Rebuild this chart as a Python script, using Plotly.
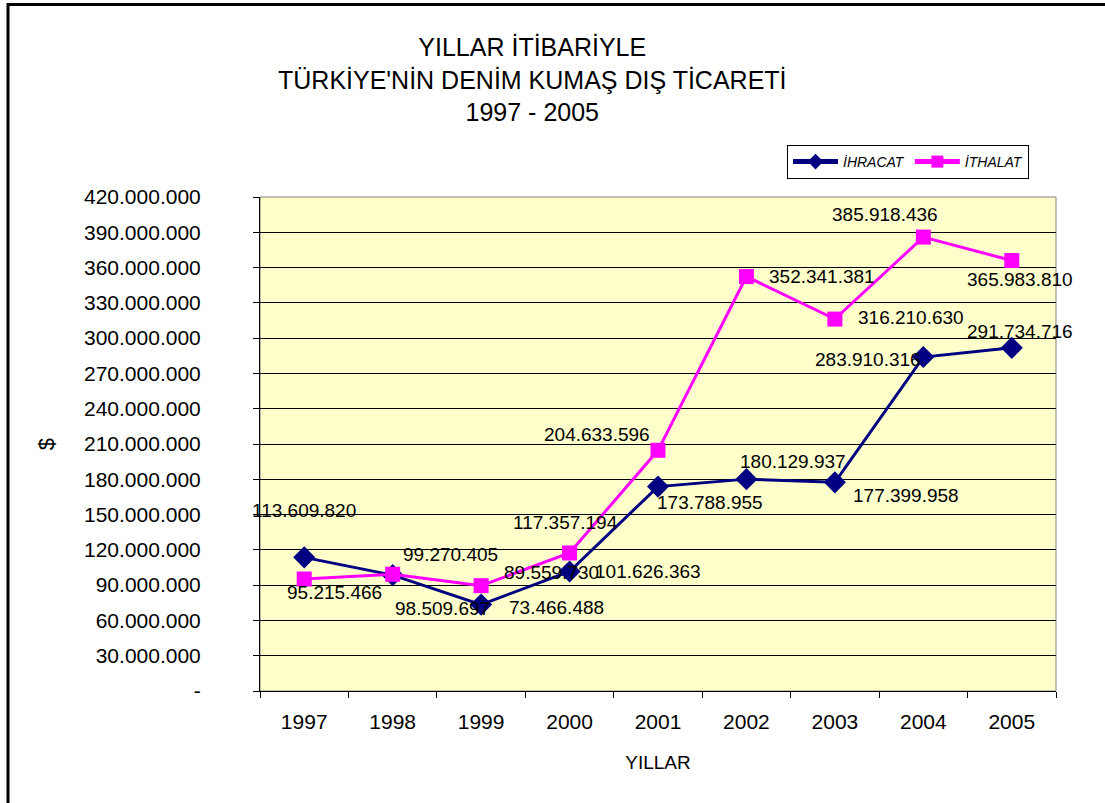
import plotly.graph_objects as go

# ---- data ----
years = ["1997", "1998", "1999", "2000", "2001", "2002", "2003", "2004", "2005"]
ihracat = [113609820, 98509697, 73466488, 101626363, 173788955,
           180129937, 177399958, 283910316, 291734716]
ithalat = [95215466, 99270405, 89559730, 117357194, 204633596,
           352341381, 316210630, 385918436, 365983810]
y_tick_values = [0, 30000000, 60000000, 90000000, 120000000, 150000000, 180000000,
                 210000000, 240000000, 270000000, 300000000, 330000000, 360000000,
                 390000000, 420000000]
y_tick_labels = ["-", "30.000.000", "60.000.000", "90.000.000", "120.000.000",
                 "150.000.000", "180.000.000", "210.000.000", "240.000.000",
                 "270.000.000", "300.000.000", "330.000.000", "360.000.000",
                 "390.000.000", "420.000.000"]

# label offsets in pixels (style only)
ihr_dx = [0, 50, 75, 78, 52, 47, 71, -55, 8]
ihr_dy = [47, -33, -3, 0, -16, 18, -13, -2, 16]
ith_dx = [30, 58, 70, -4, -61, 76, 76, -38, 8]
ith_dy = [-13, 20, 13, 30, 16, 0, 2, 23, -19]

FONT = "Liberation Sans, Arial, sans-serif"
W, H = 1105, 803
L, R, T, B = 260, 49, 197, 112
PW, PH = W - L - R, H - T - B


def fmt(v):
    return "{:,}".format(v).replace(",", ".")


def px_x(p):
    return (p - L) / PW


def px_y(p):
    return (H - B - p) / PH


fig = go.Figure()
fig.add_trace(go.Scatter(
    x=years, y=ihracat, name="İHRACAT", mode="lines+markers",
    line=dict(color="#000080", width=3),
    marker=dict(symbol="diamond", size=17, color="#000080"),
))
fig.add_trace(go.Scatter(
    x=years, y=ithalat, name="İTHALAT", mode="lines+markers",
    line=dict(color="#FF00FF", width=3),
    marker=dict(symbol="square", size=15, color="#FF00FF"),
))

annotations = []
# category axis: position annotations by category index
for i, (v, dx, dy) in enumerate(zip(ihracat, ihr_dx, ihr_dy)):
    annotations.append(dict(x=i, y=v, xref="x", yref="y", text=fmt(v), showarrow=False,
                            xshift=dx, yshift=dy, font=dict(family=FONT, size=19, color="black")))
for i, (v, dx, dy) in enumerate(zip(ithalat, ith_dx, ith_dy)):
    annotations.append(dict(x=i, y=v, xref="x", yref="y", text=fmt(v), showarrow=False,
                            xshift=dx, yshift=dy, font=dict(family=FONT, size=19, color="black")))

# title as annotation
annotations.append(dict(
    text="YILLAR İTİBARİYLE<br>TÜRKİYE'NİN DENİM KUMAŞ DIŞ TİCARETİ<br>1997 - 2005",
    xref="paper", yref="paper", x=px_x(532), y=px_y(79),
    xanchor="center", yanchor="middle", showarrow=False,
    font=dict(family=FONT, size=25, color="black"),
))

shapes = [
    # plot area border (gray)
    dict(type="rect", xref="paper", yref="paper", x0=0, x1=1, y0=0, y1=1,
         line=dict(color="#808080", width=1), layer="below"),
    # outer frame: left and top edges
    dict(type="line", xref="paper", yref="paper", x0=px_x(8), x1=px_x(8),
         y0=px_y(3), y1=px_y(H + 5), line=dict(color="black", width=3)),
    dict(type="line", xref="paper", yref="paper", x0=px_x(7), x1=px_x(W + 5),
         y0=px_y(4.5), y1=px_y(4.5), line=dict(color="black", width=3)),
]

fig.update_layout(
    width=W, height=H,
    margin=dict(l=L, r=R, t=T, b=B),
    paper_bgcolor="white",
    plot_bgcolor="#FFFFCC",
    font=dict(family=FONT, color="black"),
    legend=dict(
        orientation="h", x=px_x(787), y=px_y(145), xanchor="left", yanchor="top",
        bordercolor="black", borderwidth=1, bgcolor="white",
        font=dict(family=FONT, size=14, color="black", style="italic"),
        itemsizing="constant", itemwidth=45, tracegroupgap=0,
    ),
    xaxis=dict(
        type="category", tickson="boundaries", ticks="outside", ticklen=6,
        tickcolor="black", showline=True, linecolor="black", linewidth=1,
        showgrid=False, tickfont=dict(family=FONT, size=21),
        ticklabelstandoff=12,
        title=dict(text="YILLAR", font=dict(family=FONT, size=19), standoff=23),
        range=[-0.5, 8.5],
    ),
    yaxis=dict(
        range=[0, 420000000], tickvals=y_tick_values, ticktext=y_tick_labels,
        ticks="outside", ticklen=6, tickcolor="black",
        showline=True, linecolor="black", linewidth=1,
        showgrid=True, gridcolor="black", gridwidth=1, zeroline=False,
        tickfont=dict(family=FONT, size=21),
        ticklabelstandoff=48,
        title=dict(text="$", font=dict(family=FONT, size=22), standoff=23),
    ),
    annotations=annotations,
    shapes=shapes,
    showlegend=True,
)

fig.write_html("out.html", config={"displayModeBar": False},
               post_script="document.body.style.margin='0';")
